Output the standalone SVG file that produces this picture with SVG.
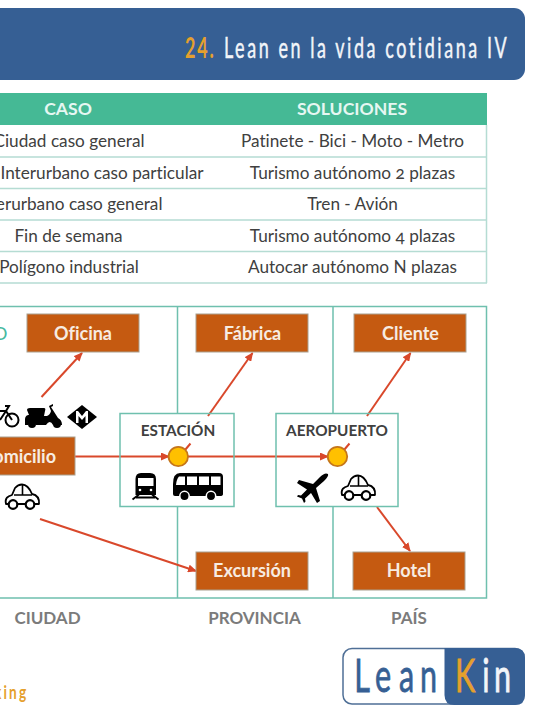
<svg xmlns="http://www.w3.org/2000/svg" width="534" height="712" viewBox="0 0 534 712">
<defs>
<marker id="arr" markerWidth="9" markerHeight="8" refX="8" refY="4" orient="auto" markerUnits="userSpaceOnUse"><path d="M0,0L9,4L0,8Z" fill="#d9482b"/></marker>
<g id="car"><path d="M-16,7 C-17.500,1 -14,-1 -10,-2 L-7,-9 Q-4,-12.500 0,-12.500 Q6,-12.500 10,-3 C15,-2 17.500,1 17,7 Z" fill="#fff" stroke="#000" stroke-width="1.800" stroke-linejoin="round"/><path d="M-8,-2 H10 M0.500,-12 V-2" stroke="#000" stroke-width="1.600" fill="none"/><circle cx="-9" cy="7.500" r="4.300" fill="#fff" stroke="#000" stroke-width="2.200"/><circle cx="8" cy="7.500" r="4.300" fill="#fff" stroke="#000" stroke-width="2.200"/></g>
</defs>
<style>
text{font-variant-ligatures:none}
.t{font-family:"Lato","Open Sans",sans-serif;font-variant-numeric:oldstyle-nums}
.cell{font-size:17.200px;fill:#404040;text-anchor:middle}
.head{font-size:17.600px;font-weight:700;fill:#e6f7f2;text-anchor:middle}
.rule{stroke:#b5dcd3;stroke-width:1.500;fill:none}
.grid{fill:none;stroke:#6fc0ae;stroke-width:1.500}
.box{fill:#c55a11;stroke:#a9a08f;stroke-width:1}
.lab{font-size:18px;font-weight:700;fill:#f7ece2;text-anchor:middle}
.zone{font-size:17px;font-weight:700;fill:#7b7b7b;text-anchor:middle}
.hub{font-size:15.300px;font-weight:700;fill:#404040;text-anchor:middle}
.cnd{font-family:"Lato","Open Sans",sans-serif}
.ln{fill:none;stroke:#d9482b;stroke-width:2}
.dot{fill:#ffc000;stroke:#c5761a;stroke-width:1.800}
.hubbox{fill:none;stroke:#6fc0ae;stroke-width:1.500}
</style>
<rect width="534" height="712" fill="#fff"/>
<g id="title-bar">
<rect x="-20" y="8" width="545" height="72" rx="11" fill="#365f94"/>
<text class="cnd" transform="translate(185,58) scale(.62,1)" font-size="29" font-weight="700" fill="#e5a02d" letter-spacing="3">24.</text>
<text class="cnd" transform="translate(224,58) scale(.62,1)" font-size="29" fill="#f2f5f9" stroke="#f2f5f9" stroke-width=".5" textLength="456" lengthAdjust="spacing">Lean en la vida cotidiana IV</text>
</g>
<g id="table">
<rect x="-5" y="93" width="492" height="32" fill="#45b995"/>
<text class="t head" x="68" y="115">CASO</text>
<text class="t head" x="352" y="115">SOLUCIONES</text>
<path class="rule" d="M-5,157H487M-5,188.500H487M-5,220H487M-5,251.500H487M-5,283H487M486.500,125V283"/>
<text class="t cell" x="69" y="147">Ciudad caso general</text>
<text class="t cell" x="352.500" y="147">Patinete - Bici - Moto - Metro</text>
<text class="t cell" x="102" y="178.500">Interurbano caso particular</text>
<text class="t cell" x="352.500" y="178.500">Turismo autónomo 2 plazas</text>
<text class="t cell" x="69" y="210">Interurbano caso general</text>
<text class="t cell" x="352.500" y="210">Tren - Avión</text>
<text class="t cell" x="68.500" y="241.500">Fin de semana</text>
<text class="t cell" x="352.500" y="241.500">Turismo autónomo 4 plazas</text>
<text class="t cell" x="69" y="273">Polígono industrial</text>
<text class="t cell" x="352.500" y="273">Autocar autónomo N plazas</text>
</g>
<g id="zones">
<path class="grid" d="M-5,306.500H486.500V598H-5M177.500,306.500V413M177.500,507V598M333,306.500V413M333,507V598"/>
<text class="t" x="-7" y="339.500" font-size="18" font-weight="400" fill="#45b9a0">O</text>
<text class="t zone" x="47.500" y="624">CIUDAD</text>
<text class="t zone" x="254.500" y="624">PROVINCIA</text>
<text class="t zone" x="409" y="624">PAÍS</text>
</g>
<g id="connectors">
<path class="ln" marker-end="url(#arr)" d="M41.500,397L82,353"/>
<path class="ln" marker-end="url(#arr)" d="M75,456.500H169"/>
<path class="ln" marker-end="url(#arr)" d="M188,456.500H328"/>
<path class="ln" marker-end="url(#arr)" d="M208,416L252.500,353"/>
<path class="ln" marker-end="url(#arr)" d="M367,416L410.500,353"/>
<path class="ln" marker-end="url(#arr)" d="M377,507L410,551"/>
<path class="ln" marker-end="url(#arr)" d="M40,519L196,571"/>
<path class="ln" d="M185,450L190.500,443.500M344,450L349.500,443.500"/>
</g>
<g id="oficina"><rect class="box" x="27" y="314" width="112" height="38"/><text class="t lab" x="83" y="340">Oficina</text></g>
<g id="fabrica"><rect class="box" x="196" y="314" width="112" height="38"/><text class="t lab" x="252.500" y="340">Fábrica</text></g>
<g id="cliente"><rect class="box" x="354" y="314" width="112" height="38"/><text class="t lab" x="410.500" y="340">Cliente</text></g>
<g id="domicilio"><rect class="box" x="-40" y="437" width="115" height="38"/><text class="t lab" x="56" y="463" style="text-anchor:end">Domicilio</text></g>
<g id="excursion"><rect class="box" x="196" y="552" width="112" height="38"/><text class="t lab" x="252" y="577">Excursión</text></g>
<g id="hotel"><rect class="box" x="353" y="552" width="112" height="38"/><text class="t lab" x="409" y="577">Hotel</text></g>
<g id="domicilio-icons">
<g fill="none" stroke="#000" stroke-width="2"><circle cx="12" cy="420" r="6.500"/><path d="M-2,411H6L12,420M6,411L9,406H5M0,420L6,411"/></g>
<path d="M25,420 C25,416 27,415 29,415 L27,410 Q27,408 30,408 H44 Q46,408 45,411 L44,416 H47 Q50,415 51,411 L49,406 L53,404 V406 L51,407 L58,418 Q62,420 62,425 H53 Q50,419 46,425 H36 Q32,418 28,425 H25Z" fill="#000"/><circle cx="32" cy="424" r="4" fill="#000"/><circle cx="57" cy="424" r="4" fill="#000"/>
<path d="M82,405L97,417L82,429L67,417Z" fill="#000"/><path d="M76,423V411H78L82,416L86,411H88V423H85.500V416L82,420L78.500,416V423Z" fill="#fff"/>
<use href="#car" x="22" y="497"/>
</g>
<g id="estacion">
<rect class="hubbox" x="120" y="413.500" width="114" height="93"/>
<text class="t hub" x="178" y="436">ESTACIÓN</text>
<circle class="dot" cx="178.300" cy="456.500" r="9.700"/>
<path d="M135.500,479Q135.500,473 141,473H150Q156,473 156,479V495H135.500Z M138,478V486H153.500V478Z" fill="#000" fill-rule="evenodd"/><path d="M132.500,499.500L139,494.500M158.500,499.500L152,494.500M136,497.500H155" fill="none" stroke="#000" stroke-width="1.800"/><circle cx="140" cy="490" r="1.300" fill="#fff"/><circle cx="151" cy="490" r="1.300" fill="#fff"/>
<path d="M173,484Q173,473 180,473H219Q223,473 223,477V494Q223,496 220,496H175Q173,496 173,494Z" fill="#000"/>
<path d="M179,476.500H185V485H176Q176.500,479 179,476.500ZM187,476.500H197V485H187ZM199,476.500H209V485H199ZM211,476.500H220.500V485H211Z" fill="#fff"/>
<circle cx="184.500" cy="496" r="4.700" fill="#000" stroke="#fff" stroke-width="1.500"/><circle cx="211" cy="496" r="4.700" fill="#000" stroke="#fff" stroke-width="1.500"/>
</g>
<g id="aeropuerto">
<rect class="hubbox" x="276" y="413.500" width="122" height="93"/>
<text class="t hub" x="337" y="436">AEROPUERTO</text>
<circle class="dot" cx="337.500" cy="456.500" r="9.700"/>
<path d="M328,474Q325,472 320,477L313,484L299,480L297,483L307,489.500L301,495.500L298,495L297,496.500L302,498.500L304,503L305.500,501.500L305,498.500L311,493L317,503L320,501L316,488L324,481Q329,476 328,474Z" fill="#000"/>
<use href="#car" x="358" y="488"/>
</g>
<g id="footer-text"><text class="cnd" transform="translate(-6,699) scale(.72,1)" font-size="19" font-weight="700" fill="#e5a02d" letter-spacing="3">king</text></g>
<g id="logo">
<rect x="343" y="648.500" width="181" height="55.500" rx="9" fill="#fff" stroke="#4f6f96" stroke-width="1.500"/>
<path d="M444.500,648H515Q525,648 525,658V695Q525,705 515,705H454.500Q444.500,705 444.500,695Z" fill="#365f94"/>
<text class="cnd" transform="translate(0,692) scale(.65,1)" font-size="47" fill="#365f94" stroke="#365f94" stroke-width=".8" x="545 577 614 646">Lean</text>
<text class="cnd" transform="translate(0,692) scale(.65,1)" font-size="47" fill="#e5a02d" stroke="#e5a02d" stroke-width=".8" x="700">K</text>
<text class="cnd" transform="translate(0,692) scale(.65,1)" font-size="47" fill="#f2f5f9" stroke="#f2f5f9" stroke-width=".8" x="742 760">in</text>
</g>
</svg>
